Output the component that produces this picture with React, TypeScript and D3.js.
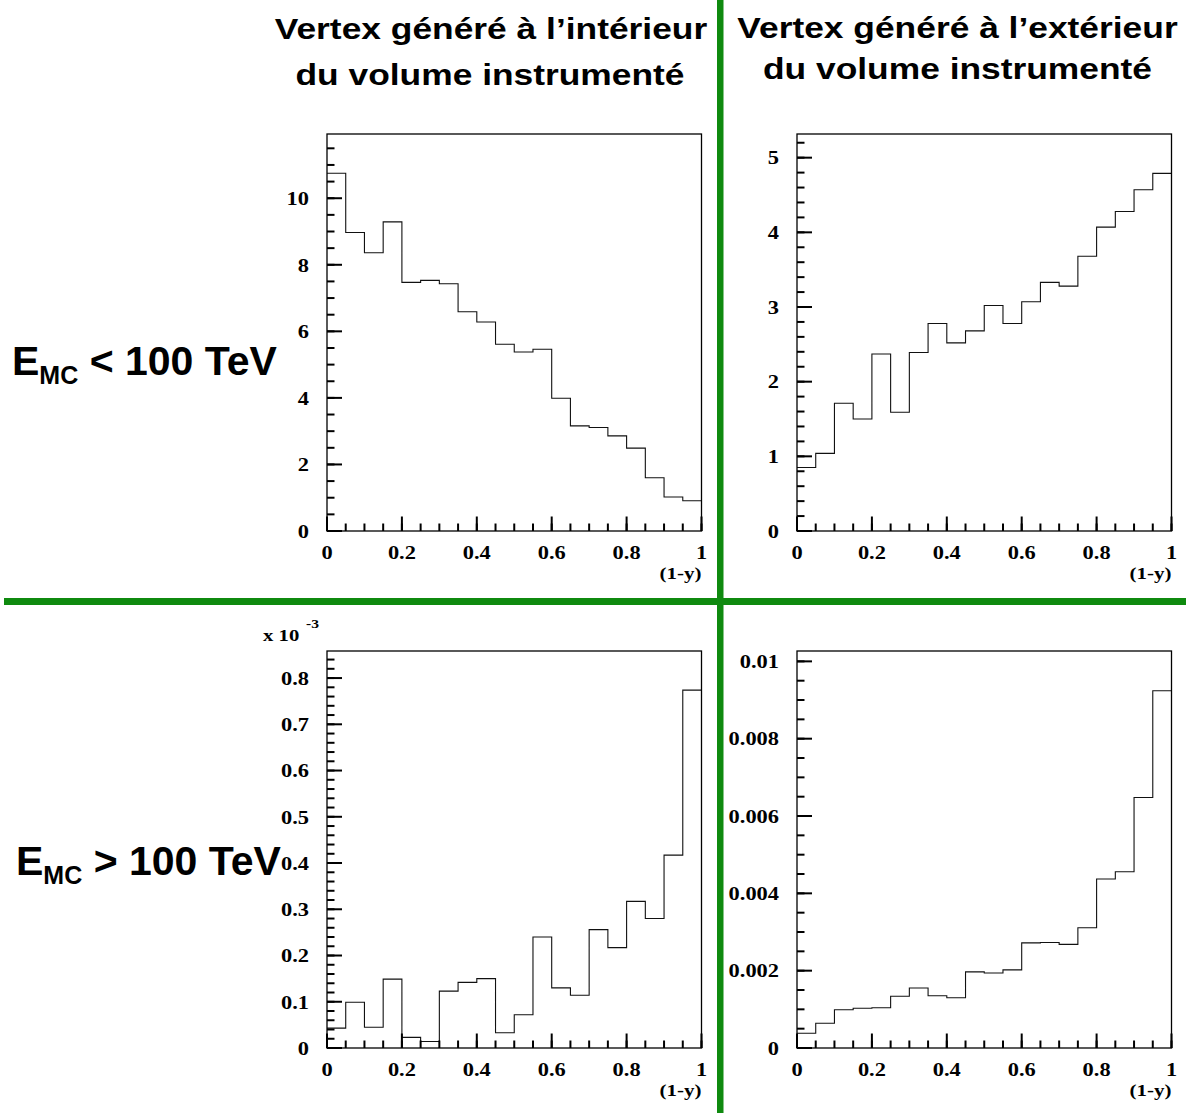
import React from "react";
import * as d3 from "d3";

// ---- data (bin contents, 20 bins of width 0.05 on (1-y) in [0,1]) ----
const binWidth = 0.05;
const innerLow = [10.75, 8.97, 8.36, 9.29, 7.47, 7.53, 7.43, 6.59, 6.28, 5.61, 5.38, 5.46, 3.99, 3.16, 3.11, 2.86, 2.49, 1.6, 1.02, 0.91];
const outerLow = [0.85, 1.04, 1.71, 1.5, 2.37, 1.59, 2.39, 2.78, 2.52, 2.68, 3.02, 2.78, 3.07, 3.33, 3.28, 3.68, 4.07, 4.28, 4.57, 4.79];
const innerHigh = [0.043, 0.099, 0.045, 0.149, 0.023, 0.014, 0.123, 0.142, 0.15, 0.033, 0.072, 0.24, 0.13, 0.114, 0.256, 0.217, 0.317, 0.28, 0.417, 0.774]; // x 10^-3
const outerHigh = [0.00038, 0.00064, 0.00099, 0.00103, 0.00104, 0.00134, 0.00155, 0.00135, 0.0013, 0.00197, 0.00194, 0.00202, 0.00272, 0.00273, 0.00268, 0.00311, 0.00437, 0.00456, 0.00648, 0.00924];

// ---- tick labels ----
const xTickValues = [0, 0.2, 0.4, 0.6, 0.8, 1];
const xTickLabels = ["0", "0.2", "0.4", "0.6", "0.8", "1"];
const yTicksInnerLow = [0, 2, 4, 6, 8, 10];
const yLabelsInnerLow = ["0", "2", "4", "6", "8", "10"];
const yTicksOuterLow = [0, 1, 2, 3, 4, 5];
const yLabelsOuterLow = ["0", "1", "2", "3", "4", "5"];
const yTicksInnerHigh = [0, 0.1, 0.2, 0.3, 0.4, 0.5, 0.6, 0.7, 0.8];
const yLabelsInnerHigh = ["0", "0.1", "0.2", "0.3", "0.4", "0.5", "0.6", "0.7", "0.8"];
const yTicksOuterHigh = [0, 0.002, 0.004, 0.006, 0.008, 0.01];
const yLabelsOuterHigh = ["0", "0.002", "0.004", "0.006", "0.008", "0.01"];

const titleInner = ["Vertex généré à l’intérieur", "du volume instrumenté"];
const titleOuter = ["Vertex généré à l’extérieur", "du volume instrumenté"];
const rowLabelLow = ["E", "MC", " < 100 TeV"];
const rowLabelHigh = ["E", "MC", " > 100 TeV"];
const xAxisTitle = "(1-y)";
const exponentBase = "x 10";
const exponentPower = "-3";

const GREEN = "#0f8a0f";
const SERIF = "'Liberation Serif', 'Times New Roman', serif";
const SANS = "'Liberation Sans', Arial, Helvetica, sans-serif";
const SX_SERIF = 1.15; // horizontal stretch of the original canvas text
const SX_TITLE = 1.22;

type TProps = {
  x: number;
  y: number;
  sx: number;
  size: number;
  family: string;
  anchor?: "start" | "middle" | "end";
  children?: React.ReactNode;
};

function T({ x, y, sx, size, family, anchor = "start", children }: TProps) {
  return (
    <text
      transform={`translate(${x},${y}) scale(${sx},1)`}
      textAnchor={anchor}
      fontFamily={family}
      fontWeight="bold"
      fontSize={size}
      fill="#000"
    >
      {children}
    </text>
  );
}

type PanelProps = {
  left: number;
  top: number;
  width: number;
  height: number;
  values: number[];
  yMax: number;
  yTicks: number[];
  yLabels: string[];
  yMinorStep: number;
  exponent?: boolean;
};

function Panel({ left, top, width, height, values, yMax, yTicks, yLabels, yMinorStep, exponent }: PanelProps) {
  const x = d3.scaleLinear().domain([0, 1]).range([left, left + width]);
  const y = d3.scaleLinear().domain([0, yMax]).range([top + height, top]);
  const bottom = top + height;

  const pts: [number, number][] = values.map((v, i) => [i * binWidth, v]);
  pts.push([values.length * binWidth, values[values.length - 1]]);
  const line = d3
    .line<[number, number]>()
    .x((d) => x(d[0]))
    .y((d) => y(d[1]))
    .curve(d3.curveStepAfter);

  const xMinor = d3.range(0, 21).map((i) => i * binWidth);
  const nMinorY = Math.floor(yMax / yMinorStep + 1e-6);
  const yMinor = d3.range(0, nMinorY + 1).map((i) => i * yMinorStep);

  return (
    <g>
      <path d={line(pts) || ""} fill="none" stroke="#111" strokeWidth={1.1} />
      <rect x={left} y={top} width={width} height={height} fill="none" stroke="#000" strokeWidth={1.3} />
      {xMinor.map((t, i) => (
        <line key={"xm" + i} x1={x(t)} x2={x(t)} y1={bottom} y2={bottom - 7.5} stroke="#000" strokeWidth={2} />
      ))}
      {xTickValues.map((t, i) => (
        <line key={"xM" + i} x1={x(t)} x2={x(t)} y1={bottom} y2={bottom - 14.5} stroke="#000" strokeWidth={2} />
      ))}
      {yMinor.map((t, i) => (
        <line key={"ym" + i} x1={left} x2={left + 7.5} y1={y(t)} y2={y(t)} stroke="#000" strokeWidth={2} />
      ))}
      {yTicks.map((t, i) => (
        <line key={"yM" + i} x1={left} x2={left + 15} y1={y(t)} y2={y(t)} stroke="#000" strokeWidth={2} />
      ))}
      {xTickValues.map((t, i) => (
        <T key={"xl" + i} x={x(t)} y={bottom + 28} sx={SX_SERIF} size={19.5} family={SERIF} anchor="middle">
          {xTickLabels[i]}
        </T>
      ))}
      <T x={left + width} y={bottom + 48} sx={1.2} size={17.5} family={SERIF} anchor="end">
        {xAxisTitle}
      </T>
      {yTicks.map((t, i) => (
        <T key={"yl" + i} x={left - 18} y={y(t) + 6.8} sx={SX_SERIF} size={19.5} family={SERIF} anchor="end">
          {yLabels[i]}
        </T>
      ))}
      {exponent && (
        <g>
          <T x={left - 64} y={top - 10} sx={1.22} size={17} family={SERIF}>
            {exponentBase}
          </T>
          <T x={left - 21} y={top - 23} sx={1.2} size={13} family={SERIF}>
            {exponentPower}
          </T>
        </g>
      )}
    </g>
  );
}

function RowLabel({ x, y, parts }: { x: number; y: number; parts: string[] }) {
  return (
    <text x={x} y={y} fontFamily={SANS} fontWeight="bold" fontSize={41}>
      {parts[0]}
      <tspan fontSize={25} dy={9}>{parts[1]}</tspan>
      <tspan dy={-9}>{parts[2]}</tspan>
    </text>
  );
}

export default function App() {
  const W = 1186;
  const H = 1113;
  const pw = 374.5;
  const ph = 397;
  return (
    <div style={{ position: "absolute", left: 0, top: 0 }}>
      <svg width={W} height={H} viewBox={`0 0 ${W} ${H}`} style={{ display: "block", background: "#fff" }}>
        <rect x={0} y={0} width={W} height={H} fill="#fff" />
        <T x={491} y={39} sx={SX_TITLE} size={29} family={SANS} anchor="middle">{titleInner[0]}</T>
        <T x={490} y={85} sx={SX_TITLE} size={29} family={SANS} anchor="middle">{titleInner[1]}</T>
        <T x={957.5} y={38} sx={SX_TITLE} size={29} family={SANS} anchor="middle">{titleOuter[0]}</T>
        <T x={957.5} y={79} sx={SX_TITLE} size={29} family={SANS} anchor="middle">{titleOuter[1]}</T>

        <RowLabel x={12} y={375} parts={rowLabelLow} />
        <RowLabel x={16} y={875} parts={rowLabelHigh} />

        <Panel left={327} top={134} width={pw} height={ph} values={innerLow} yMax={11.93} yTicks={yTicksInnerLow} yLabels={yLabelsInnerLow} yMinorStep={0.5} />
        <Panel left={797} top={134} width={pw} height={ph} values={outerLow} yMax={5.317} yTicks={yTicksOuterLow} yLabels={yLabelsOuterLow} yMinorStep={0.2} />
        <Panel left={327} top={651} width={pw} height={ph} values={innerHigh} yMax={0.8585} yTicks={yTicksInnerHigh} yLabels={yLabelsInnerHigh} yMinorStep={0.02} exponent />
        <Panel left={797} top={651} width={pw} height={ph} values={outerHigh} yMax={0.010268} yTicks={yTicksOuterHigh} yLabels={yLabelsOuterHigh} yMinorStep={0.0005} />

        <rect x={717} y={0} width={6.5} height={H} fill={GREEN} />
        <rect x={4} y={598} width={W - 4} height={7} fill={GREEN} />
      </svg>
    </div>
  );
}
